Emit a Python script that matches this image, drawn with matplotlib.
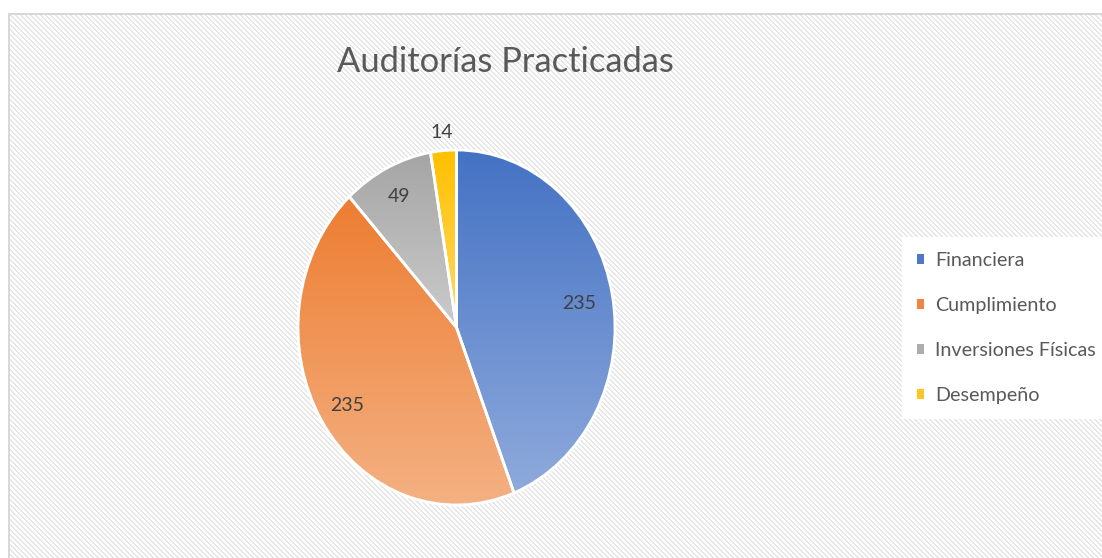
import numpy as np
import matplotlib.pyplot as plt
from matplotlib.colors import LinearSegmentedColormap
from matplotlib.patches import Patch

plt.rcParams['font.family'] = ['Lato', 'DejaVu Sans']

categories = ["Financiera", "Cumplimiento", "Inversiones Físicas", "Desempeño"]
values = [235, 235, 49, 14]
top_colors = ["#4472C4", "#ED7D31", "#A5A5A5", "#FFC000"]
bottom_colors = ["#8FAADC", "#F4B183", "#CBCBCB", "#FFD966"]
legend_colors = ["#4F78C8", "#EE8540", "#ADADAD", "#FFC522"]
label_dist = [0.79, 0.81, 0.83, 1.11]

W, H = 1102, 558
fig = plt.figure(figsize=(W / 100, H / 100), dpi=100)

# striped chart area background with light border
yy, xx = np.mgrid[0:H, 0:W]
bg = np.ones((H, W, 3))
bg[((xx - yy) % 5) < 2] = 0.90
bg[:13, :] = 1.0
bg[:, :8] = 1.0
bg[13:15, 8:] = 0.85
bg[13:, 8:10] = 0.85
fig.figimage(bg, 0, 0, origin='upper', zorder=-10)

ax = fig.add_axes([298 / W, 1 - 505 / H, 317 / W, 355 / H])
ax.patch.set_visible(False)
wedges, _ = ax.pie(values, startangle=90, counterclock=False, radius=1,
                   wedgeprops=dict(edgecolor='white', linewidth=2))

grad = np.linspace(0, 1, 256).reshape(-1, 1)
for w, c0, c1 in zip(wedges, top_colors, bottom_colors):
    x0, y0, x1, y1 = w.get_path().get_extents().extents
    cmap = LinearSegmentedColormap.from_list('g', [c1, c0])
    im = ax.imshow(grad, cmap=cmap, extent=(x0, x1, y0, y1), origin='lower',
                   aspect='auto', zorder=0.5)
    im.set_clip_path(w)
    w.set_facecolor('none')

ax.set_aspect('auto')
ax.set_xlim(-1, 1)
ax.set_ylim(-1, 1)
ax.axis('off')

total = sum(values)
start = 0
for v, r in zip(values, label_dist):
    mid = (start + v / 2) / total * 2 * np.pi
    ax.text(r * np.sin(mid), r * np.cos(mid), str(v), ha='center',
            va='center_baseline', fontsize=14, color='#404040')
    start += v

fig.text(505 / W, 1 - 62 / H, "Auditorías Practicadas", ha='center', va='center',
         fontsize=24.8, color='#595959')

handles = [Patch(facecolor=c, edgecolor='none') for c in legend_colors]
leg = fig.legend(handles, categories, loc='upper left',
                 bbox_to_anchor=(902 / W, 1 - 237 / H), frameon=True,
                 fancybox=False, facecolor='white', edgecolor='none', framealpha=1,
                 fontsize=14.2, handlelength=0.38, handleheight=0.38,
                 handletextpad=0.55, labelspacing=1.42, borderpad=0.75,
                 borderaxespad=0)
for t in leg.get_texts():
    t.set_color('#595959')

fig.savefig('out.png', dpi=100)
